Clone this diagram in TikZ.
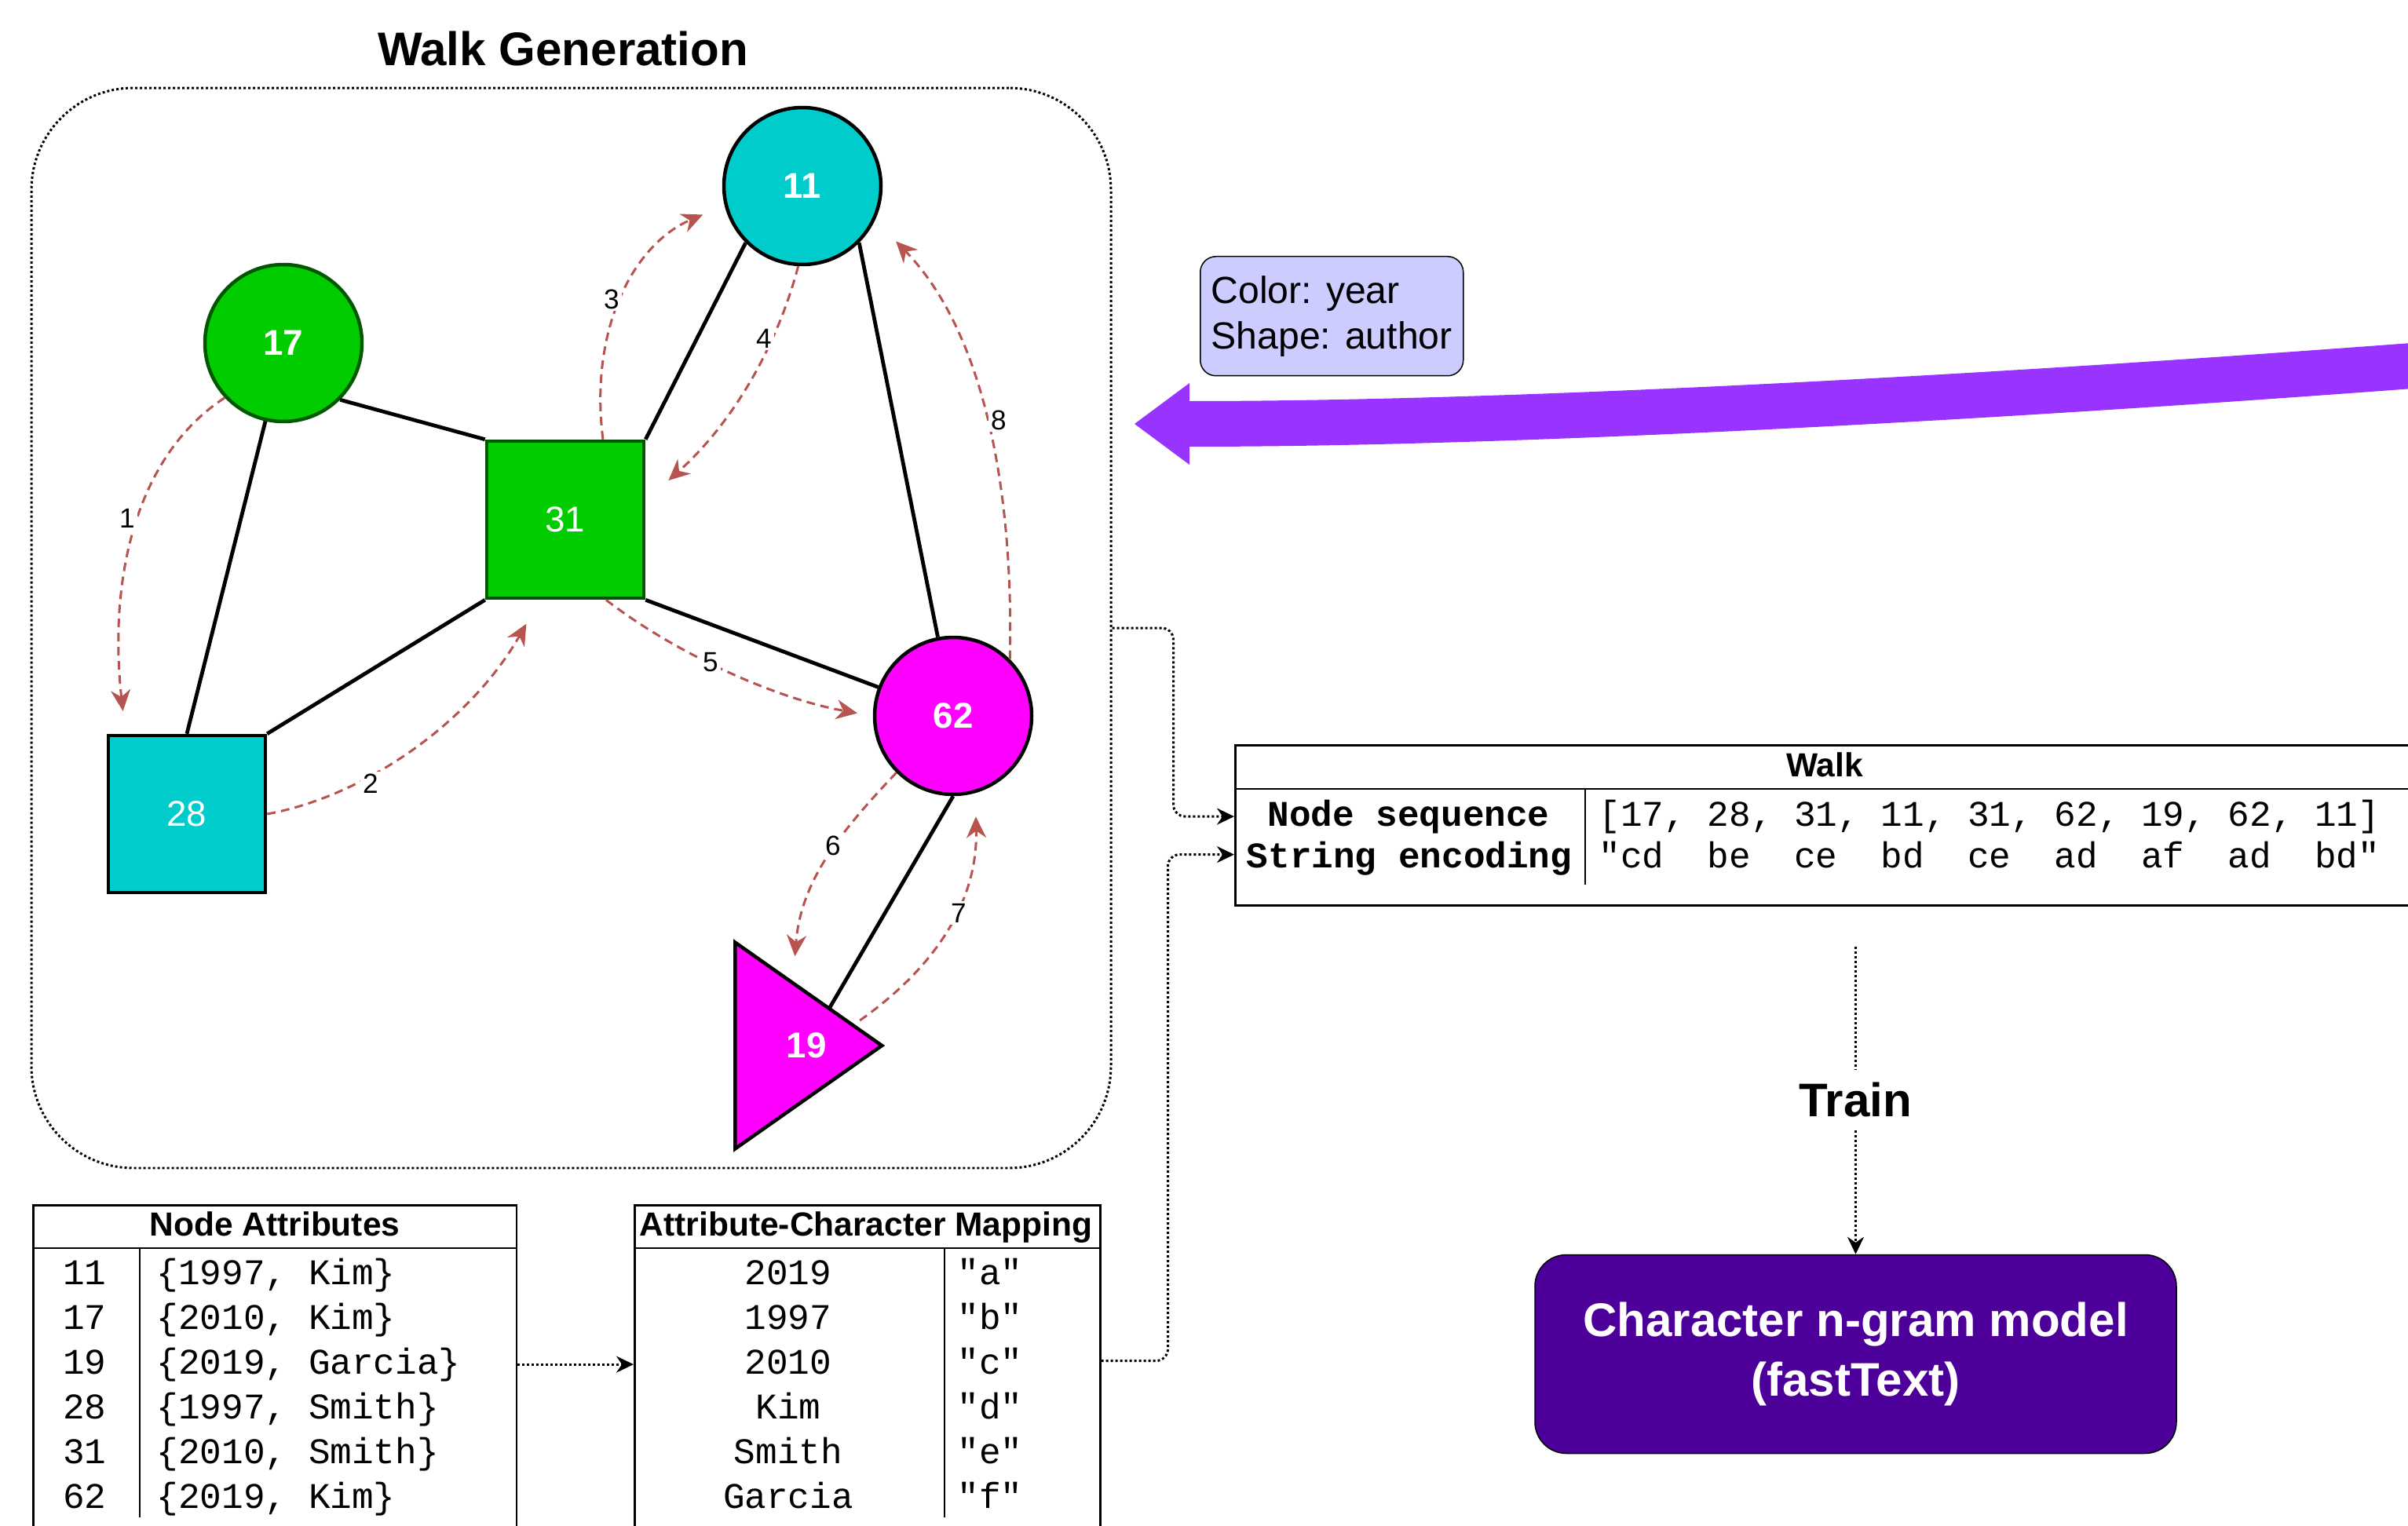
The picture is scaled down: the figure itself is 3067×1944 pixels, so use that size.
\documentclass[tikz,border=0pt]{standalone}
\usepackage{fontspec}
\setmainfont{Liberation Sans}
\setmonofont{Liberation Mono}
\usetikzlibrary{arrows.meta,shapes.geometric}

\definecolor{nodegreen}{HTML}{00CC00}
\definecolor{darkgreen}{HTML}{005700}
\definecolor{nodecyan}{HTML}{00CCCC}
\definecolor{nodemagenta}{HTML}{FF00FF}
\definecolor{walkred}{HTML}{B85450}
\definecolor{legendblue}{HTML}{CCCCFF}
\definecolor{bigarrow}{HTML}{9933FF}
\definecolor{modelpurple}{HTML}{4C0099}

\newcommand{\bigbold}{\fontsize{17.1}{21.6}\selectfont\bfseries}
\newcommand{\headfont}{\fontsize{12.1}{14}\selectfont\bfseries}
\newcommand{\cellfont}{\fontsize{13.1}{16}\selectfont\ttfamily}
\newcommand{\vertexfont}{\fontsize{13}{15}\selectfont}

\tikzset{
    vertex/.style={circle, minimum size=20mm, inner sep=0, line width=0.45mm,
        draw=black, text=white, font=\vertexfont\bfseries},
    authorbox/.style={rectangle, minimum size=20mm, inner sep=0, line width=0.45mm,
        draw=black, text=white, font=\vertexfont},
    link/.style={line width=0.48mm},
    walkstep/.style={walkred, line width=0.3mm, dash pattern=on 1.1mm off 0.7mm,
        -{Stealth[length=2.7mm, width=2.5mm]}},
    stepnum/.style={fill=white, inner sep=0.3mm, font=\fontsize{10}{12}\selectfont},
    dotline/.style={line width=0.3mm, dash pattern=on 0.3mm off 0.3mm},
    flow/.style={dotline, rounded corners=1.5mm, -{Stealth[length=2.2mm, width=2.1mm]}},
    tabframe/.style={draw, line width=0.25mm, inner sep=0, anchor=north west},
    tabrule/.style={line width=0.25mm},
    tabhead/.style={font=\headfont, inner sep=0, anchor=base},
    celltext/.style={font=\cellfont, inner sep=0},
}

\begin{document}
\begin{tikzpicture}[x=0.1mm, y=-0.1mm]
\useasboundingbox (0,0) rectangle (3067,1944);
\clip (0,0) rectangle (3067,1944);

% big arrow from the right
\coordinate (bigsrc) at (3150,460);
\coordinate (bigneck) at (1515,540);
\coordinate (bigtip) at (1445,540);
\draw[bigarrow, line width=5.8mm] (bigsrc) .. controls +(-450,35) and +(485,0) .. (bigneck);
\fill[bigarrow] (bigtip) -- (1515,488) -- (1515,592) -- cycle;

% walk generation
\node[draw, dotline, rounded corners=13mm, minimum width=137.5mm, minimum height=137.6mm]
    (walkgen) at (727.5,800) {};
\node[font=\bigbold, anchor=base] (gentitle) at (717,84) {Walk Generation};

\node[vertex, fill=nodecyan] (n11) at (1022,237) {11};
\node[vertex, fill=nodegreen, draw=darkgreen] (n17) at (361,437) {17};
\node[authorbox, fill=nodegreen, draw=darkgreen] (n31) at (720,662) {31};
\node[authorbox, fill=nodecyan] (n28) at (238,1037) {28};
\node[vertex, fill=nodemagenta] (n62) at (1214,912) {62};
\node[isosceles triangle, isosceles triangle stretches, minimum width=26.3mm,
    minimum height=18.7mm, inner sep=0, line width=0.45mm, draw=black,
    fill=nodemagenta, anchor=lower side] (n19) at (934,1332) {};
\node[text=white, font=\vertexfont\bfseries] (n19lbl) at ([xshift=9.3mm]n19.lower side) {19};

\draw[link] (n17.-45) -- (n31.north west);
\draw[link] (n17.-103) -- (n28.north);
\draw[link] (n28.north east) -- (n31.south west);
\draw[link] (n31.north east) -- (n11.-135);
\draw[link] (n11.-45) -- (n62.101);
\draw[link] (n31.south east) -- (n62.159);
\draw[link] (n62.south) -- ([xshift=12.2mm, yshift=4.7mm]n19.lower side);

% the walk
\draw[walkstep, shorten >=2.9mm] (n17.223) .. controls +(-112,73) and +(-22,-200) .. ([xshift=2.4mm]n28.north west);
\draw[walkstep, shorten >=3.5mm] (n28.east) .. controls +(122,-22) and +(-90,158) .. ([xshift=7mm]n31.south west);
\draw[walkstep, shorten >=3mm] ([xshift=4.8mm]n31.north) .. controls +(-18,-142) and +(-115,49) .. (n11.194);
\draw[walkstep, shorten >=3.9mm] (n11.-93) .. controls +(-27,103) and +(110,-98) .. ([yshift=2.4mm]n31.east);
\draw[walkstep, shorten >=2mm] ([xshift=5.2mm]n31.south) .. controls +(88,68) and +(-124,-22) .. (n62.west);
\draw[walkstep, shorten >=3.1mm] (n62.225) .. controls +(-73,77) and +(10,-126) .. ([xshift=7.6mm,yshift=-5.3mm]n19.left corner);
\draw[walkstep, shorten >=3mm] ([xshift=-3.4mm,yshift=3.2mm]n19.apex) .. controls +(113,-80) and +(3,122) .. (n62.-74);
\draw[walkstep, shorten >=3.8mm] (n62.45) .. controls +(5,-221) and +(137,141) .. (n11.-25);

\node[stepnum] (s1) at (162,660) {1};
\node[stepnum] (s2) at (472,998) {2};
\node[stepnum] (s3) at (779,381) {3};
\node[stepnum] (s4) at (973,431) {4};
\node[stepnum] (s5) at (905,844) {5};
\node[stepnum] (s6) at (1061,1077) {6};
\node[stepnum] (s7) at (1221,1163) {7};
\node[stepnum] (s8) at (1272,535) {8};

% legend
\node[draw, fill=legendblue, rounded corners=2mm, line width=0.15mm, align=left,
    anchor=north west, minimum width=33.5mm, minimum height=15.2mm,
    font=\fontsize{13.7}{16.4}\selectfont] (legend) at (1528,326) {Color: year\\Shape: author};

% walk table
\node[tabframe, minimum width=150.3mm, minimum height=20.4mm] (walktab) at (1572,948) {};
\draw[tabrule] ([yshift=-5.7mm]walktab.north west) -- ([yshift=-5.7mm]walktab.north east);
\draw[tabrule] (2019,1005) -- (2019,1127);
\node[tabhead] (walkhead) at (2324,989) {Walk};
\node[celltext, anchor=base, font=\cellfont\bfseries] (seqlbl) at (1794,1052) {Node sequence};
\node[celltext, anchor=base, font=\cellfont\bfseries] (strlbl) at (1795,1105) {String encoding};
\node[celltext, anchor=base west] (seqval) at (2036,1052) {[17, 28, 31, 11, 31, 62, 19, 62, 11]};
\node[celltext, anchor=base west] (strval) at (2036,1105) {"cd~~be~~ce~~bd~~ce~~ad~~af~~ad~~bd"};

% node attributes
\node[tabframe, minimum width=61.6mm, minimum height=45mm] (attrtab) at (41,1534) {};
\draw[tabrule] ([yshift=-5.6mm]attrtab.north west) -- ([yshift=-5.6mm]attrtab.north east);
\draw[tabrule] (178,1590) -- (178,1933);
\node[tabhead] (attrhead) at (350,1574) {Node Attributes};
\foreach \id/\val [count=\i] in {11/{\{1997, Kim\}}, 17/{\{2010, Kim\}}, 19/{\{2019, Garcia\}},
        28/{\{1997, Smith\}}, 31/{\{2010, Smith\}}, 62/{\{2019, Kim\}}} {
    \node[celltext, anchor=base] (aid\i) at (108,1579+57*\i) {\id};
    \node[celltext, anchor=base west] (aval\i) at (199,1579+57*\i) {\val};
}

% attribute-character mapping
\node[tabframe, minimum width=59.3mm, minimum height=45mm] (maptab) at (807,1534) {};
\draw[tabrule] ([yshift=-5.6mm]maptab.north west) -- ([yshift=-5.6mm]maptab.north east);
\draw[tabrule] (1203,1590) -- (1203,1933);
\node[tabhead] (maphead) at (1103,1574) {Attribute-Character Mapping};
\foreach \key/\chr [count=\i] in {2019/a, 1997/b, 2010/c, Kim/d, Smith/e, Garcia/f} {
    \node[celltext, anchor=base] (mkey\i) at (1004,1579+57*\i) {\key};
    \node[celltext, anchor=base west] (mchr\i) at (1219,1579+57*\i) {"\chr"};
}

% connectors
\draw[flow] (attrtab.east |- aval3) -- (maptab.west |- aval3);
\draw[flow] (walkgen.east) -- ++(78,0) |- (walktab.west |- seqlbl);
\draw[flow] (maptab.east |- mchr3) -- ++(85,0) |- (walktab.west |- strval);

% model
\node[draw, fill=modelpurple, rounded corners=4mm, line width=0.15mm, text=white,
    align=center, minimum width=81.7mm, minimum height=25.3mm, font=\bigbold]
    (model) at (2363.5,1725) {Character n-gram model\\(fastText)};
\coordinate (trainsrc) at (2363.5,1206);
\draw[flow] (trainsrc) -- (model.north);
\node[font=\bigbold, fill=white, anchor=base, inner sep=1.5mm] (trainlbl) at (2363,1422) {Train};
\end{tikzpicture}
\end{document}
